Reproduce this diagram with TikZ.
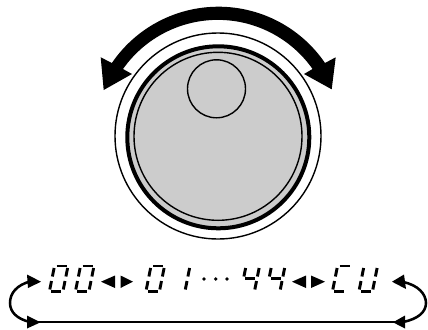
\documentclass[tikz,border=0pt]{standalone}
\tikzset{
 seg/.style={line width=2.2pt,line cap=butt,black},
 thin ring/.style={draw=black,line width=1.05pt},
 wire/.style={draw=black,line width=1.5pt},
 curl/.style={draw=black,line width=1.9pt},
 head/.style={fill=black,draw=none}
}
% seven-segment digit: #1 x of the top-left corner (pixels), #2 list of segments
\newcommand{\sevenseg}[2]{%
 \begin{scope}[shift={(#1,266)},xslant=0.2]
  \foreach \s in {#2}{%
   \ifnum\s=1 \draw[seg] (2,0)--(12,0);\fi
   \ifnum\s=2 \draw[seg] (13.5,2)--(13.5,10.5);\fi
   \ifnum\s=3 \draw[seg] (13.5,15)--(13.5,23.5);\fi
   \ifnum\s=4 \draw[seg] (2,25.5)--(12,25.5);\fi
   \ifnum\s=5 \draw[seg] (0,15)--(0,23.5);\fi
   \ifnum\s=6 \draw[seg] (0,2)--(0,10.5);\fi
   \ifnum\s=7 \draw[seg] (2,12.7)--(12,12.7);\fi
  }
 \end{scope}}
\begin{document}
\begin{tikzpicture}[x=0.75pt,y=-0.75pt]
\useasboundingbox (0,0) rectangle (428,329);
% dial
\draw[thin ring,fill=white] (218,136) circle (103);
\draw[line width=3pt,fill=black!20] (218.3,137.3) circle (91);
\draw[thin ring] (218,136.3) circle (84);
\node[draw=black,line width=1.05pt,circle,minimum size=43.5pt,inner sep=0pt] (knob) at (216.5,88.8) {};
% big double arrow
\fill[black] (100.7,57.3) -- (103.7,90) -- (132,74) -- (123,69)
  arc[start angle=215.2,end angle=324.8,radius=116] -- (304,74) -- (331.7,89.3) -- (335.7,57.3)
  -- (325,63) arc[start angle=325.7,end angle=214.3,radius=129] -- cycle;
% display
\sevenseg{54.5}{1,2,3,4,5,6}
\sevenseg{80.5}{1,2,3,4,5,6}
\sevenseg{151}{1,2,3,4,5,6}
\sevenseg{176.5}{2,3}
\sevenseg{246}{3,2,6,7}
\sevenseg{271.5}{3,2,6,7}
\sevenseg{337.5}{1,4,5,6}
\sevenseg{364}{2,3,4,5,6}
% small double arrows
\fill[head] (101,281.7) -- (115,275.5) -- (115,288) -- cycle;
\fill[head] (133,281.7) -- (120.5,275.5) -- (120.5,288) -- cycle;
\fill[head] (292,281.7) -- (306,275.5) -- (306,288) -- cycle;
\fill[head] (325,281.7) -- (311,275.5) -- (311,288) -- cycle;
% dots
\foreach \x in {204,215.7,227}{\fill (\x,279) circle (1.9);}
% loop
\coordinate (a) at (30,281.5);
\coordinate (b) at (30,322);
\coordinate (c) at (403,282);
\coordinate (d) at (403,322);
\draw[wire] (b) -- (d);
\draw[curl] (a) .. controls (17,285) and (10,293) .. (10,303) .. controls (10,312) and (17,319) .. (b);
\draw[curl] (c) .. controls (418,285) and (426,294) .. (426,303) .. controls (426,312) and (418,319) .. (d);
\fill[head] (41,281.7) -- (27,274.5) -- (28,288) -- cycle;
\fill[head] (40.5,322.3) -- (27,315.5) -- (27,328.5) -- cycle;
\fill[head] (392,281.7) -- (404,274.5) -- (406,289) -- cycle;
\fill[head] (393,322.3) -- (405,315.5) -- (405,328.5) -- cycle;
\end{tikzpicture}
\end{document}
